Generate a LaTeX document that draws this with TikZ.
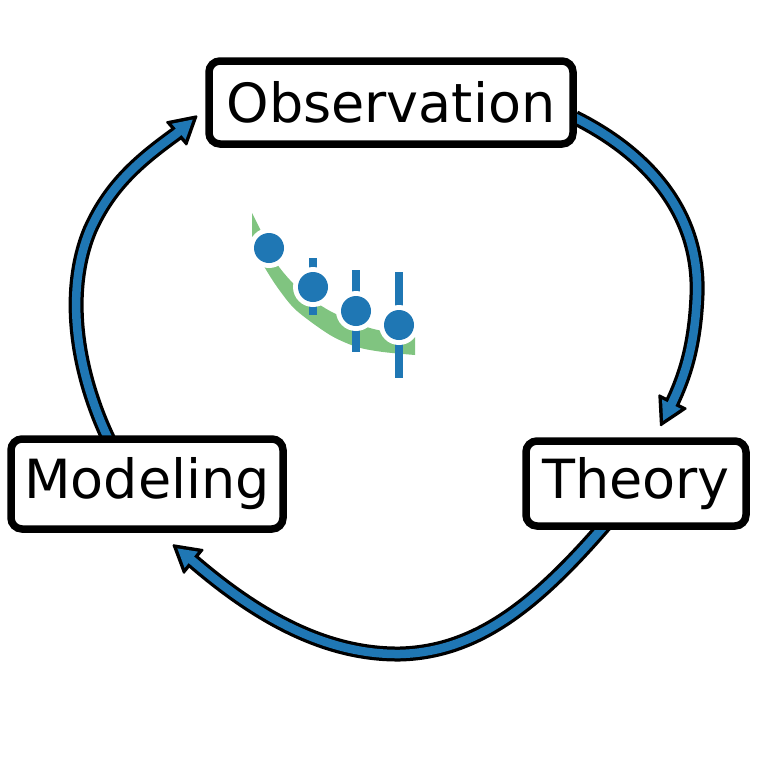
\documentclass[tikz,border=0pt]{standalone}
\usepackage{fontspec}
\setmainfont{DejaVu Sans}
\usetikzlibrary{calc}
\definecolor{xkblue}{RGB}{31,119,180}
\definecolor{xkgreen}{RGB}{128,196,128}
\pgfdeclarelayer{bg}
\pgfsetlayers{bg,main}
\tikzset{
  box/.style={draw=black, fill=white, line width=7.5pt, rounded corners=11pt,
    inner sep=0pt, font=\fontsize{54}{60}\selectfont},
  shaftout/.style={draw=black, line width=15pt},
  shaftin/.style={draw=xkblue, line width=8.5pt},
  errbar/.style={draw=xkblue, line width=8pt},
}
% #1 path up to the base, #2 base coordinate, #3 tip coordinate
\newcommand\xkarrow[3]{%
  \coordinate (#2e) at ($(#2)!8pt!(#3)$);
  \coordinate (#2i) at ($(#2)!3.5pt!(#3)$);
  \coordinate (#3i) at ($(#3)!7pt!(#2)$);
  \draw[shaftout] #1 (#2) -- (#2e);
  \fill[black, rounded corners=1.5pt] (#3) -- ($(#2)!16.5pt!90:(#3)$) -- ($(#2)!16.5pt!-90:(#3)$) -- cycle;
  \draw[shaftin] #1 (#2) -- (#2e);
  \fill[xkblue] (#3i) -- ($(#2i)!10.5pt!90:(#3)$) -- ($(#2i)!10.5pt!-90:(#3)$) -- cycle;
}
\begin{document}
\begin{tikzpicture}[x=1pt, y=-1pt]
\useasboundingbox (0,0) rectangle (757,774);

% boxes
\node[box, minimum width=364pt, minimum height=83pt] (obs) at (391,102.5) {Observation};
\node[box, minimum width=272pt, minimum height=90pt] (mod) at (147,484) {Modeling};
\node[box, minimum width=220pt, minimum height=85pt] (the) at (636,483.5) {Theory};

% arrow end points
\coordinate (tipR) at (660,427);  \coordinate (baseR) at (673,401);
\coordinate (tipB) at (172,544);  \coordinate (baseB) at (194,562);
\coordinate (tipL) at (198,115);  \coordinate (baseL) at (176,134);

\begin{pgfonlayer}{bg}
  \xkarrow{($(obs.east)+(-2,15)$) .. controls (650,155) and (700,215) .. (697,295) .. controls (695,345) and (685,375) ..}{baseR}{tipR}
  \xkarrow{($(the.south)+(-30,-6)$) .. controls (540,600) and (480,652) .. (400,654) .. controls (320,655) and (250,610) ..}{baseB}{tipB}
  \xkarrow{($(mod.north)+(-37,7)$) .. controls (75,370) and (65,290) .. (90,230) .. controls (110,185) and (140,160) ..}{baseL}{tipL}
\end{pgfonlayer}

% central plot
\fill[xkgreen] plot[smooth] coordinates {(252,213) (262,233) (277,264) (300,290) (330,311) (370,328) (415,337)}
  -- plot[smooth] coordinates {(415,355) (383,352) (357,347) (330,335) (297,311) (280,291) (265,268) (252,242)} -- cycle;
\draw[errbar] (313,258) -- (313,315);
\draw[errbar] (356,270) -- (356,352);
\draw[errbar] (399,272) -- (399,378);
\foreach \n/\x/\y in {d1/269/248, d2/313/287, d3/356/311, d4/399/325}{
  \fill[white] (\x,\y) circle[radius=20];
  \fill[xkblue] (\x,\y) circle[radius=15] coordinate (\n);
}
\end{tikzpicture}
\end{document}
